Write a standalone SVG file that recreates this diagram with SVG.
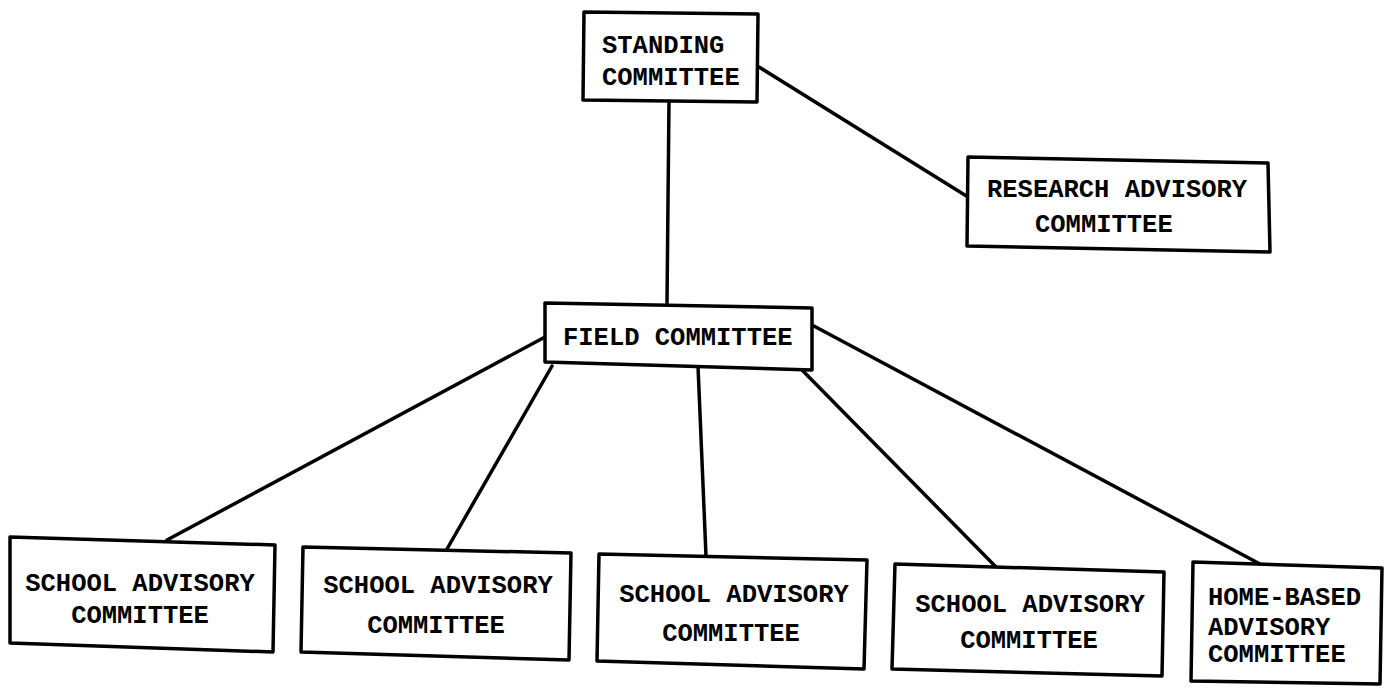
<svg xmlns="http://www.w3.org/2000/svg" width="1386" height="689" viewBox="0 0 1386 689">
<style>
.box{fill:#fff;stroke:#000;stroke-width:3.5;stroke-linejoin:round}
.con line{stroke:#000;stroke-width:3.5;stroke-linecap:round}
text{font-family:"Liberation Mono","DejaVu Sans Mono",monospace;font-weight:bold;font-size:25.5px;fill:#000}
.m{text-anchor:middle}
</style>
<rect width="1386" height="689" fill="#fff"/>
<g id="connectors" class="con">
<line x1="669" y1="101" x2="667" y2="303"/>
<line x1="759" y1="67" x2="968" y2="197"/>
<line x1="545" y1="337" x2="167" y2="540"/>
<line x1="552" y1="366" x2="447" y2="549"/>
<line x1="698" y1="366" x2="706" y2="556"/>
<line x1="803" y1="371" x2="996" y2="567"/>
<line x1="812" y1="325" x2="1260" y2="564"/>
</g>
<g id="standing">
<polygon class="box" points="584,12 758,14 757,102 583,100"/>
<text x="602" y="53">STANDING</text>
<text x="602" y="85">COMMITTEE</text>
</g>
<g id="research">
<polygon class="box" points="968,157 1268,163 1270,252 967,246"/>
<text x="987" y="197">RESEARCH ADVISORY</text>
<text x="1035" y="232">COMMITTEE</text>
</g>
<g id="field">
<polygon class="box" points="545,303 812,308 812,370 545,362"/>
<text x="563" y="345">FIELD COMMITTEE</text>
</g>
<g id="school1">
<polygon class="box" points="10,537 275,545 273,652 10,643"/>
<text class="m" x="140" y="591">SCHOOL ADVISORY</text>
<text class="m" x="140" y="623">COMMITTEE</text>
</g>
<g id="school2">
<polygon class="box" points="303,547 571,553 569,660 301,652"/>
<text class="m" x="438" y="593">SCHOOL ADVISORY</text>
<text class="m" x="436" y="633">COMMITTEE</text>
</g>
<g id="school3">
<polygon class="box" points="599,554 867,560 864,669 597,661"/>
<text class="m" x="734" y="602">SCHOOL ADVISORY</text>
<text class="m" x="731" y="641">COMMITTEE</text>
</g>
<g id="school4">
<polygon class="box" points="895,564 1164,572 1162,676 892,669"/>
<text class="m" x="1030" y="612">SCHOOL ADVISORY</text>
<text class="m" x="1029" y="648">COMMITTEE</text>
</g>
<g id="homebased">
<polygon class="box" points="1193,562 1382,568 1380,684 1191,681"/>
<text x="1208" y="605">HOME-BASED</text>
<text x="1208" y="635">ADVISORY</text>
<text x="1208" y="662">COMMITTEE</text>
</g>
</svg>
